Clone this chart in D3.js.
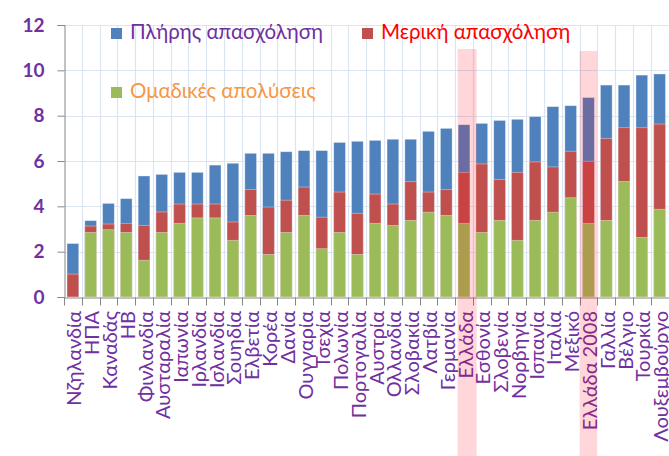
<!DOCTYPE html>
<html>
<head>
  <meta charset="UTF-8">
  <script src="https://d3js.org/d3.v7.min.js"></script>
  <style>
    body { margin: 0; padding: 0; background: #fff; }
    svg { display: block; font-family: Lato, "Open Sans", sans-serif; }
  </style>
</head>
<body>
<script>
  // values
  const categories = ["Νζηλανδία", "ΗΠΑ", "Καναδάς", "ΗΒ", "Φινλανδία", "Αυσταραλία", "Ιαπωνία",
    "Ιρλανδία", "Ισλανδία", "Σουηδία", "Ελβετία", "Κορέα", "Δανία", "Ουγγαρία", "Τσεχία",
    "Πολωνία", "Πορτογαλία", "Αυστρία", "Ολλανδία", "Σλοβακία", "Λατβία", "Γερμανία", "Ελλάδα",
    "Εσθονία", "Σλοβενία", "Νορβηγία", "Ισπανία", "Ιταλία", "Μεξικό", "Ελλάδα 2008", "Γαλλία",
    "Βέλγιο", "Τουρκία", "Λουξεμβούργο"];
  const fullTime = [2.36, 3.37, 4.13, 4.34, 5.34, 5.41, 5.5, 5.5, 5.82, 5.9, 6.34, 6.34, 6.41, 6.46,
    6.46, 6.82, 6.87, 6.91, 6.96, 6.96, 7.31, 7.44, 7.6, 7.66, 7.79, 7.84, 7.96, 8.4, 8.44, 8.8,
    9.35, 9.35, 9.79, 9.84];
  const partTime = [1.01, 3.13, 3.22, 3.25, 3.16, 3.75, 4.1, 4.1, 4.1, 3.31, 4.74, 3.97, 4.27, 4.85,
    3.52, 4.63, 3.69, 4.54, 4.1, 5.09, 4.63, 4.74, 5.5, 5.87, 5.18, 5.5, 5.96, 5.74, 6.43, 5.99,
    6.99, 7.47, 7.47, 7.63];
  const massLayoffs = [0, 2.85, 2.97, 2.85, 1.62, 2.85, 3.25, 3.49, 3.49, 2.5, 3.6, 1.88, 2.85, 3.6,
    2.13, 2.85, 1.88, 3.25, 3.16, 3.38, 3.74, 3.6, 3.25, 2.85, 3.38, 2.5, 3.38, 3.74, 4.38, 3.25,
    3.38, 5.1, 2.63, 3.87];
  const yTicks = [0, 2, 4, 6, 8, 10, 12];
  const highlighted = ["Ελλάδα", "Ελλάδα 2008"];
  const seriesNames = ["Πλήρης απασχόληση", "Μερική απασχόληση", "Ομαδικές απολύσεις"];

  const width = 669, height = 456;
  const plotLeft = 64, plotRight = 668.5, plotTop = 25, plotBottom = 297;
  const purple = "#7030a0";
  const colors = ["#4f81bd", "#c0504d", "#9bbb59"];

  const svg = d3.select("body").append("svg")
    .attr("width", width)
    .attr("height", height);

  const x = d3.scaleBand()
    .domain(categories)
    .range([plotLeft, plotRight])
    .paddingInner(0.34)
    .paddingOuter(0.17);
  const step = x.step();
  const bandStart = d => x(d) - x.paddingInner() * step / 2;

  const y = d3.scaleLinear().domain([0, 12]).range([plotBottom, plotTop]);

  // grid
  svg.append("g").selectAll("line")
    .data(yTicks.filter(t => t > 0))
    .join("line")
    .attr("x1", plotLeft).attr("x2", plotRight)
    .attr("y1", d => Math.round(y(d)) + 0.5).attr("y2", d => Math.round(y(d)) + 0.5)
    .attr("stroke", "#dbe5f1").attr("stroke-width", 1.2);

  const bounds = categories.map(bandStart).concat([plotRight]);
  svg.append("g").selectAll("line")
    .data(bounds.slice(1))
    .join("line")
    .attr("x1", d => Math.round(d) + 0.5).attr("x2", d => Math.round(d) + 0.5)
    .attr("y1", plotTop).attr("y2", plotBottom)
    .attr("stroke", "#dbe5f1").attr("stroke-width", 1.2);

  // overlapping bars: full, part, layoffs
  [fullTime, partTime, massLayoffs].forEach((vals, k) => {
    svg.append("g").selectAll("rect")
      .data(categories)
      .join("rect")
      .attr("x", d => x(d))
      .attr("width", x.bandwidth())
      .attr("y", (d, i) => y(vals[i]))
      .attr("height", (d, i) => y(0) - y(vals[i]))
      .attr("fill", colors[k])
      .attr("stroke", "rgba(255,255,255,0.45)")
      .attr("stroke-width", 0.8);
  });

  // axes
  const xAxis = svg.append("g")
    .attr("transform", `translate(0,${plotBottom + 0.5})`)
    .call(d3.axisBottom(x).tickSize(0).tickFormat(""));
  xAxis.select(".domain").attr("stroke", "#868686");
  xAxis.selectAll(".tk").data(bounds).join("line")
    .attr("class", "tk")
    .attr("x1", d => Math.round(d) + 0.5).attr("x2", d => Math.round(d) + 0.5)
    .attr("y1", 0).attr("y2", 8)
    .attr("stroke", "#868686");

  const yAxis = svg.append("g")
    .attr("transform", `translate(${plotLeft + 0.5},0)`)
    .call(d3.axisLeft(y).tickValues(yTicks).tickSize(7).tickPadding(13));
  yAxis.select(".domain").attr("stroke", "#868686");
  yAxis.selectAll(".tick line").attr("stroke", "#868686");
  yAxis.selectAll(".tick text")
    .attr("fill", purple)
    .attr("font-size", 19)
    .attr("font-weight", "bold")
    .attr("font-family", "Lato, sans-serif");

  // category labels (the last one runs off the bottom, as in the original)
  svg.append("g").selectAll("text")
    .data(categories)
    .join("text")
    .attr("transform", d => `translate(${x(d) + x.bandwidth() / 2 + 8.5},311) rotate(-90)`)
    .attr("text-anchor", "end")
    .attr("fill", purple)
    .attr("font-size", 20)
    .text(d => d);

  // legend
  const legendPos = [[111, 28, 130, 39], [362, 28, 381, 39], [111, 87, 130, 98]];
  const legendText = [purple, "#ff0000", "#f79646"];
  seriesNames.forEach((name, k) => {
    const p = legendPos[k];
    svg.append("rect")
      .attr("x", p[0]).attr("y", p[1])
      .attr("width", 11).attr("height", 11)
      .attr("fill", colors[k]);
    svg.append("text")
      .attr("x", p[2]).attr("y", p[3])
      .attr("fill", legendText[k])
      .attr("font-size", 20.5)
      .text(name);
  });

  // pink highlight over Greece columns
  svg.append("g").selectAll("rect")
    .data(highlighted)
    .join("rect")
    .attr("x", (d, i) => bandStart(d) + (i === 0 ? 2.5 : 0))
    .attr("width", (d, i) => i === 0 ? 19 : 17.5)
    .attr("y", (d, i) => i === 0 ? 49 : 51)
    .attr("height", height)
    .attr("fill", "rgba(255,0,20,0.16)");
</script>
</body>
</html>
